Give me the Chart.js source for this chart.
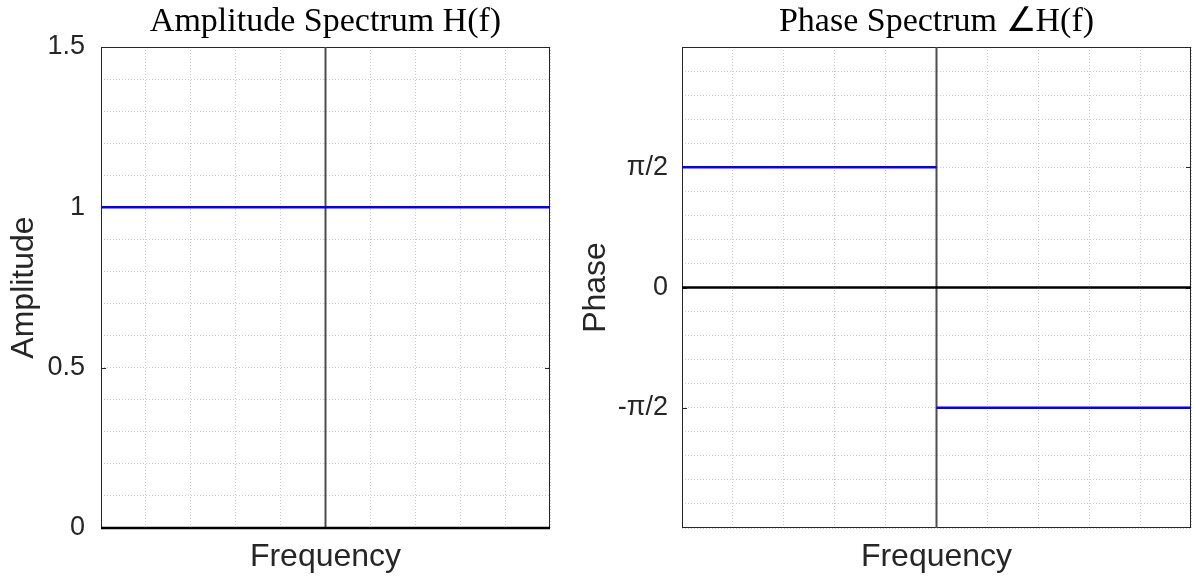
<!DOCTYPE html>
<html lang="en">
<head>
<meta charset="UTF-8">
<title>Amplitude and Phase Spectrum</title>
<script src="https://cdn.jsdelivr.net/npm/chart.js"></script>
<style>
    * { margin: 0; padding: 0; box-sizing: border-box; }
    body { background: #fff; width: 1194px; height: 578px; position: relative; overflow: hidden; }
    .panel { position: absolute; top: 0; height: 578px; }
    #ampBox { left: 0; width: 570px; }
    #phaseBox { left: 570px; width: 624px; }
</style>
</head>
<body>
<div class="panel" id="ampBox"><canvas id="ampChart"></canvas></div>
<div class="panel" id="phaseBox"><canvas id="phaseChart"></canvas></div>

<script>
// frequency axis (no tick labels, only grid)
const freqRange = [-5, 5];
const freqGrid = [-5, -4, -3, -2, -1, 0, 1, 2, 3, 4, 5];

// amplitude spectrum: |H(f)| = 1
const ampFreq = [-5, 5];
const ampValues = [1, 1];

// phase spectrum: +pi/2 for f < 0, -pi/2 for f > 0
const phaseNegFreq = [-5, 0];
const phaseNegValues = [Math.PI / 2, Math.PI / 2];
const phasePosFreq = [0, 5];
const phasePosValues = [-Math.PI / 2, -Math.PI / 2];

// zero reference line
const zeroFreq = [-5, 5];
const zeroValues = [0, 0];

// y axes
const ampRange = [0, 1.5];
const ampTicks = [0, 0.5, 1, 1.5];
const ampTickLabels = ['0', '0.5', '1', '1.5'];
const ampGridStep = 0.1;

const phaseRange = [-Math.PI, Math.PI];
const phaseTicks = [-Math.PI / 2, 0, Math.PI / 2];
const phaseTickLabels = ['-π/2', '0', 'π/2'];
const phaseGridStep = Math.PI / 10;

const toPoints = (xs, ys) => xs.map((x, i) => ({ x: x, y: ys[i] }));

// box around the plot + small inward ticks (matlab style)
const frameBox = {
    id: 'frameBox',
    beforeDatasetsDraw(chart, args, opts) {
        const { ctx, chartArea: a, scales } = chart;
        ctx.save();
        ctx.strokeStyle = '#262626';
        ctx.lineWidth = 1;
        ctx.strokeRect(a.left + 0.5, a.top + 0.5, a.width - 1, a.height - 1);
        ctx.beginPath();
        (opts.ticks || []).forEach(v => {
            const y = Math.round(scales.y.getPixelForValue(v)) + 0.5;
            ctx.moveTo(a.left, y); ctx.lineTo(a.left + 5, y);
            ctx.moveTo(a.right, y); ctx.lineTo(a.right - 5, y);
        });
        ctx.stroke();
        ctx.restore();
    }
};

const sans = '"Liberation Sans", Arial, sans-serif';
const gridStyle = { color: '#cccccc', lineWidth: 1, drawTicks: false };
const borderStyle = { display: false, dash: [1, 2] };

function makeOptions(cfg) {
    return {
        responsive: true,
        maintainAspectRatio: false,
        animation: false,
        layout: { padding: { left: 0, right: cfg.padRight, top: 0, bottom: 0 } },
        plugins: {
            legend: { display: false },
            tooltip: { enabled: false },
            title: {
                display: true,
                text: cfg.title,
                fullSize: false,
                color: '#000',
                font: { family: '"Liberation Serif", serif', size: 34, weight: 'normal', lineHeight: 1 },
                padding: { top: 5, bottom: 8 }
            },
            frameBox: { ticks: cfg.ticks }
        },
        scales: {
            x: {
                type: 'linear',
                min: freqRange[0],
                max: freqRange[1],
                afterBuildTicks: s => { s.ticks = freqGrid.map(v => ({ value: v })); },
                afterFit: s => { s.height = 50; },
                ticks: { display: false, autoSkip: false },
                border: borderStyle,
                grid: gridStyle,
                title: {
                    display: true,
                    text: 'Frequency',
                    color: '#262626',
                    font: { family: sans, size: 32, lineHeight: 1 },
                    padding: { top: 0, bottom: 5 }
                }
            },
            y: {
                type: 'linear',
                min: cfg.range[0],
                max: cfg.range[1],
                afterBuildTicks: s => {
                    const n = Math.round((cfg.range[1] - cfg.range[0]) / cfg.step);
                    const t = [];
                    for (let i = 0; i <= n; i++) t.push({ value: cfg.range[0] + i * cfg.step });
                    s.ticks = t;
                },
                afterFit: s => { s.width = cfg.axisWidth; },
                ticks: {
                    color: '#262626',
                    padding: cfg.tickPad,
                    autoSkip: false,
                    font: { family: sans, size: 27 },
                    callback: v => {
                        const k = cfg.ticks.findIndex(t => Math.abs(t - v) < 1e-6);
                        return k >= 0 ? cfg.labels[k] : '';
                    }
                },
                border: borderStyle,
                grid: gridStyle,
                title: {
                    display: true,
                    text: cfg.yTitle,
                    color: '#262626',
                    font: { family: sans, size: 32, lineHeight: 1 },
                    padding: { top: cfg.titlePad, bottom: 0 }
                }
            }
        }
    };
}

function lineSet(points, color, width) {
    return {
        data: points,
        borderColor: color,
        borderWidth: width,
        pointRadius: 0,
        fill: false,
        tension: 0,
        clip: false
    };
}

// amplitude chart
new Chart(document.getElementById('ampChart'), {
    type: 'line',
    data: {
        datasets: [
            lineSet(toPoints(zeroFreq, zeroValues), '#000000', 2.5),
            lineSet(toPoints(ampFreq, ampValues), '#0000ff', 2.5),
            lineSet([{ x: 0, y: ampRange[0] }, { x: 0, y: ampRange[1] }], '#4d4d4d', 2)
        ]
    },
    options: makeOptions({
        title: 'Amplitude Spectrum H(f)',
        yTitle: 'Amplitude',
        range: ampRange,
        step: ampGridStep,
        ticks: ampTicks,
        labels: ampTickLabels,
        axisWidth: 101,
        padRight: 20,
        titlePad: 8,
        tickPad: 16
    }),
    plugins: [frameBox]
});

// phase chart
new Chart(document.getElementById('phaseChart'), {
    type: 'line',
    data: {
        datasets: [
            lineSet(toPoints(zeroFreq, zeroValues), '#000000', 2.5),
            lineSet(toPoints(phaseNegFreq, phaseNegValues), '#0000ff', 2.5),
            lineSet(toPoints(phasePosFreq, phasePosValues), '#0000ff', 2.5),
            lineSet([{ x: 0, y: phaseRange[0] }, { x: 0, y: phaseRange[1] }], '#4d4d4d', 2)
        ]
    },
    options: makeOptions({
        title: 'Phase Spectrum ∠H(f)',
        yTitle: 'Phase',
        range: phaseRange,
        step: phaseGridStep,
        ticks: phaseTicks,
        labels: phaseTickLabels,
        axisWidth: 112,
        padRight: 3,
        titlePad: 10,
        tickPad: 14
    }),
    plugins: [frameBox]
});
</script>
</body>
</html>
